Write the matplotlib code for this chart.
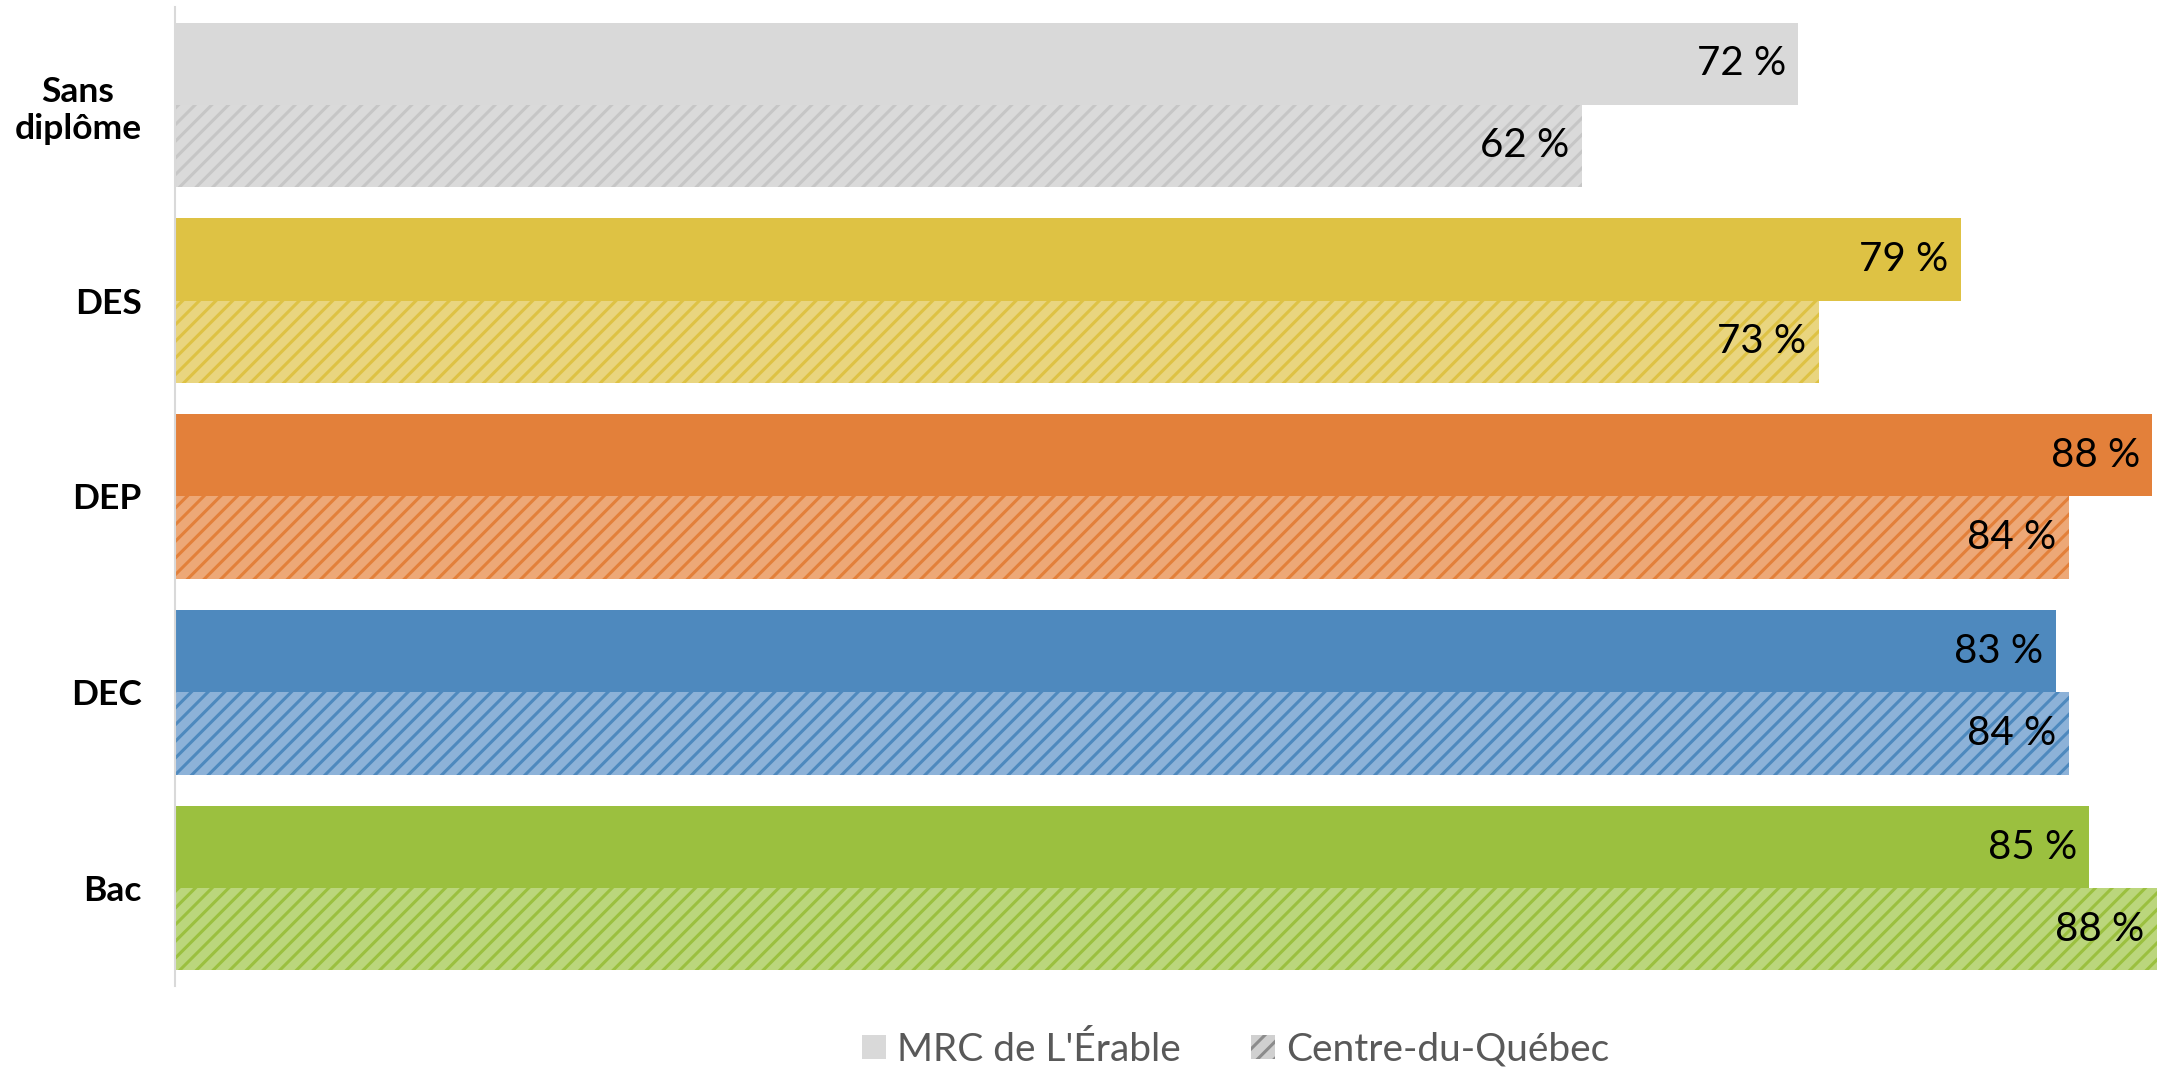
import matplotlib
matplotlib.use("Agg")
from matplotlib import pyplot as plt
from matplotlib.patches import Patch

categories = ["Sans\ndiplôme", "DES", "DEP", "DEC", "Bac"]
mrc_values = [72.0, 79.2, 87.7, 83.4, 84.9]
cdq_values = [62.4, 72.9, 84.0, 84.0, 87.9]
series_names = ["MRC de L'Érable", "Centre-du-Québec"]

# solid colour per category, and the lighter fill for the hatched bars
solid_colors = ["#D9D9D9", "#DEC244", "#E3803A", "#4E89BE", "#9BC03F"]
light_colors = ["#DADADA", "#E9D57F", "#EDA877", "#8DB2D8", "#BBD67C"]
stripe_colors = ["#C6C6C6", "#DEC244", "#E3803A", "#4E89BE", "#9BC03F"]

plt.rcParams["font.family"] = ["Lato", "DejaVu Sans"]
plt.rcParams["hatch.linewidth"] = 2.2

fig = plt.figure(figsize=(21.57, 10.69), dpi=100)
ax = fig.add_axes([175 / 2157, 0.0776, 1 - 175 / 2157, 0.9159])

bar_h = 0.42
pos = list(range(len(categories)))

ax.barh([p - bar_h / 2 for p in pos], mrc_values, height=bar_h,
        color=solid_colors, linewidth=0)
ax.barh([p + bar_h / 2 for p in pos], cdq_values, height=bar_h,
        color=light_colors, edgecolor=stripe_colors, hatch="//", linewidth=0)

for offset, values in [(-bar_h / 2, mrc_values), (bar_h / 2, cdq_values)]:
    for p, v in zip(pos, values):
        ax.annotate(f"{v:.0f} %", (v, p + offset), xytext=(-9, 0), textcoords="offset points",
                    ha="right", va="center", fontsize=29, color="black",
                    annotation_clip=False)

ax.set_xlim(0, 87.9)
ax.set_ylim(4.5, -0.5)
ax.set_yticks(pos)
ax.set_yticklabels(categories, fontsize=25.5, fontweight="bold", multialignment="center")
ax.tick_params(axis="y", length=0, pad=24)
ax.set_xticks([])
for side in ["top", "right", "bottom"]:
    ax.spines[side].set_visible(False)
ax.spines["left"].set_color("#D9D9D9")
ax.spines["left"].set_linewidth(1.5)

handles = [Patch(facecolor="#D9D9D9", linewidth=0),
           Patch(facecolor="#D0D0D0", edgecolor="#8C8C8C", hatch="//", linewidth=0)]
fig.legend(handles, series_names, loc="center", bbox_to_anchor=(0.573, 0.018),
           ncol=2, frameon=False, fontsize=28, labelcolor="#595959",
           handlelength=0.6, handleheight=0.6, handletextpad=0.3, columnspacing=1.8)

fig.savefig("out.png", dpi=100)
